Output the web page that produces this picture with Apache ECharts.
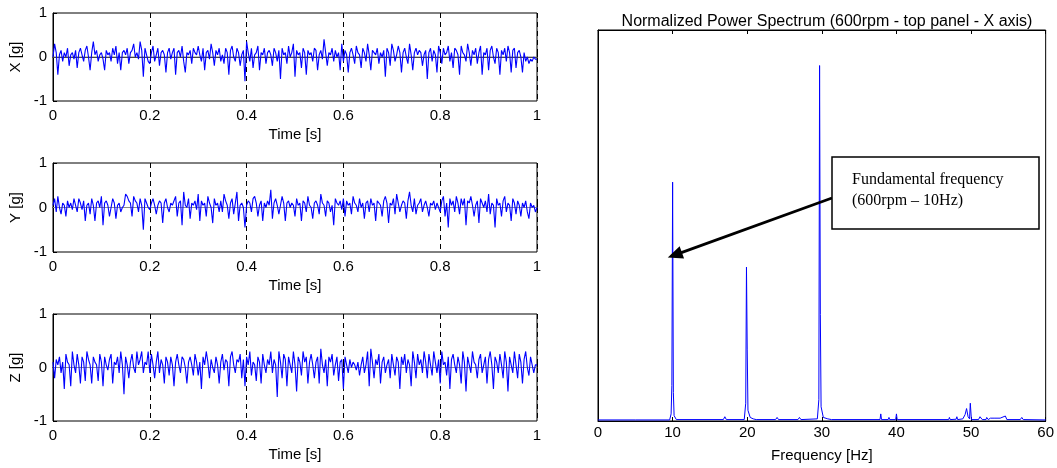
<!DOCTYPE html>
<html><head><meta charset="utf-8">
<script src="https://cdn.jsdelivr.net/npm/echarts@6/dist/echarts.min.js"></script>
<style>html,body{margin:0;padding:0;background:#fff}#c{width:1057px;height:468px}</style>
</head><body><div id="c"></div>
<script>
// ---------- DATA ----------
const duration = 1; // s, samples are evenly spaced over this span
const timeTicks = [0, 0.2, 0.4, 0.6, 0.8, 1];
const accelTicks = [-1, 0, 1];
const freqTicks = [0, 10, 20, 30, 40, 50, 60];

const xAccel = [
 0.0, 0.3, 0.1, -0.4, 0.05, 0.15, -0.1, 0.1, 0.0, 0.2, -0.2, 0.05, 0.1, -0.05, 0.15,
 -0.25, 0.1, 0.2, 0.05, -0.1, 0.15, 0.25, 0.0, -0.3, 0.1, 0.35, 0.05, 0.15, -0.1, 0.05,
 0.1, -0.05, -0.3, 0.15, 0.05, 0.1, -0.1, 0.2, 0.05, 0.25, -0.15, 0.1, -0.3, 0.1, 0.15,
 0.05, 0.2, -0.15, 0.1, 0.15, 0.3, 0.0, 0.1, -0.05, 0.35, 0.15, -0.45, 0.2, 0.05, -0.1,
 -0.15, 0.1, 0.25, -0.1, 0.05, 0.2, -0.2, 0.1, 0.15, 0.05, -0.35, 0.1, 0.2, -0.05, 0.1,
 0.2, -0.4, 0.1, 0.15, 0.0, 0.25, -0.1, -0.35, 0.1, 0.05, 0.15, -0.15, 0.2, 0.1, 0.05,
 0.25, 0.05, -0.1, 0.2, -0.3, 0.1, 0.15, -0.05, 0.3, 0.1, -0.2, 0.15, 0.05, 0.2, -0.1,
 0.05, -0.15, 0.2, 0.1, -0.4, 0.15, 0.25, 0.0, -0.1, 0.2, 0.1, -0.2, 0.05, 0.15, -0.55,
 0.35, 0.1, -0.1, 0.2, -0.25, 0.05, 0.1, 0.25, -0.3, 0.1, 0.05, 0.2, -0.15, 0.1, 0.15,
 0.05, -0.2, 0.2, 0.1, -0.1, 0.15, -0.5, 0.2, 0.05, 0.1, -0.15, 0.25, 0.0, 0.1, 0.3,
 -0.45, 0.15, 0.05, 0.1, -0.25, 0.2, 0.1, -0.4, 0.15, 0.05, 0.1, -0.1, 0.2, 0.15, -0.3,
 0.05, 0.15, -0.05, 0.4, 0.1, -0.2, 0.1, 0.05, 0.2, -0.1, 0.15, 0.0, 0.1, -0.3, 0.3,
 -0.1, 0.15, 0.05, -0.35, 0.1, 0.2, 0.05, -0.15, 0.25, 0.1, 0.05, -0.25, 0.2, 0.1, -0.1,
 0.3, 0.05, -0.3, 0.15, 0.1, 0.05, 0.2, -0.15, 0.1, 0.0, 0.15, -0.45, 0.2, 0.1, -0.2,
 0.3, 0.15, -0.1, 0.05, 0.25, 0.1, -0.35, 0.1, 0.2, 0.0, -0.15, 0.3, 0.05, -0.3, 0.1,
 0.2, 0.05, 0.15, 0.1, -0.2, 0.05, 0.15, -0.5, 0.1, 0.2, -0.1, 0.15, 0.05, -0.35, 0.25,
 0.1, -0.15, 0.2, 0.05, 0.1, 0.25, -0.1, 0.1, -0.25, 0.2, 0.15, 0.05, -0.4, 0.25, 0.1,
 0.05, -0.1, 0.3, 0.1, -0.2, 0.15, 0.05, 0.2, -0.15, 0.1, 0.25, -0.4, 0.1, 0.05, 0.2,
 -0.3, 0.15, 0.25, 0.0, -0.15, 0.2, 0.1, -0.4, 0.15, 0.05, 0.2, -0.1, 0.25, 0.1, -0.35,
 0.15, 0.2, -0.25, 0.1, 0.15, 0.0, -0.35, 0.1, -0.1, 0.0, -0.15, -0.05, -0.1, 0.0, -0.05,
 -0.05
];
const yAccel = [
 0.05, 0.2, -0.1, 0.25, 0.0, -0.15, 0.1, 0.05, -0.2, 0.15, 0.0, 0.1, -0.05, 0.2, 0.05,
 -0.1, 0.2, 0.1, -0.05, 0.15, -0.3, 0.05, 0.1, -0.15, 0.2, 0.05, -0.3, 0.1, 0.15, 0.0,
 0.25, -0.4, 0.1, 0.15, 0.05, -0.2, 0.0, 0.2, 0.1, -0.25, 0.05, 0.1, -0.1, 0.0, 0.05,
 0.3, 0.25, 0.15, 0.1, -0.2, 0.25, 0.15, 0.1, -0.1, 0.2, 0.05, -0.5, 0.2, 0.1, 0.0,
 -0.05, 0.1, 0.2, 0.05, -0.15, 0.05, 0.15, 0.1, -0.35, 0.1, 0.2, 0.0, -0.1, 0.1, 0.05,
 0.05, 0.25, -0.2, 0.1, 0.15, -0.4, 0.35, 0.05, 0.0, 0.2, -0.25, 0.1, 0.05, 0.15, -0.05,
 0.3, -0.3, 0.15, 0.05, 0.1, -0.2, 0.25, 0.1, 0.0, -0.35, 0.2, 0.05, 0.1, -0.1, 0.15,
 -0.1, 0.3, 0.15, 0.05, -0.25, 0.1, 0.2, -0.15, 0.1, 0.35, -0.3, 0.05, 0.1, 0.0, -0.45,
 0.05, 0.15, 0.1, -0.1, 0.2, 0.25, 0.1, -0.2, 0.05, 0.15, -0.3, 0.1, 0.0, 0.15, 0.05,
 0.4, -0.25, 0.1, 0.2, 0.05, -0.15, 0.05, 0.25, 0.1, -0.3, 0.1, 0.15, 0.0, 0.1, 0.05,
 -0.2, 0.2, 0.05, 0.1, -0.3, 0.15, 0.1, -0.1, 0.25, 0.05, 0.0, -0.25, 0.1, 0.15, 0.05,
 -0.15, 0.3, 0.1, 0.05, -0.2, 0.15, 0.1, -0.1, 0.05, -0.4, 0.2, 0.1, 0.05, 0.15, -0.05,
 0.2, -0.2, 0.15, 0.05, 0.1, -0.15, 0.25, 0.1, 0.05, -0.1, 0.2, 0.0, 0.1, -0.25, 0.1,
 0.15, -0.1, 0.2, 0.05, 0.1, -0.3, 0.15, 0.1, 0.05, -0.2, 0.15, 0.25, 0.1, -0.35, 0.1,
 0.05, 0.2, -0.15, 0.3, 0.1, -0.1, 0.05, 0.15, 0.1, -0.25, 0.15, 0.35, 0.05, -0.1, 0.2,
 -0.15, 0.05, 0.1, 0.2, -0.1, 0.05, 0.15, 0.0, -0.2, 0.1, 0.05, 0.15, -0.05, 0.1, 0.0,
 -0.1, 0.15, 0.25, -0.2, 0.1, -0.45, 0.2, 0.05, 0.15, -0.1, 0.25, 0.1, -0.15, 0.2, 0.05,
 0.2, -0.4, 0.15, 0.1, 0.25, 0.05, -0.2, 0.05, 0.15, -0.35, 0.2, 0.1, 0.0, 0.15, -0.1,
 0.3, -0.15, 0.1, 0.05, -0.45, 0.2, 0.05, 0.1, -0.2, 0.15, 0.25, -0.1, 0.1, 0.05, -0.3,
 0.2, 0.1, -0.15, 0.15, 0.05, -0.2, 0.1, 0.0, 0.15, -0.1, -0.25, 0.1, 0.0, 0.05, -0.1,
 0.0
];
const zAccel = [
 0.1, -0.2, 0.15, 0.05, 0.2, -0.1, 0.1, -0.4, 0.25, 0.1, 0.05, -0.35, 0.3, 0.05, -0.1,
 0.25, 0.05, -0.3, 0.2, 0.1, -0.25, 0.3, 0.15, 0.05, -0.3, 0.2, 0.1, 0.05, -0.25, 0.25,
 0.1, -0.35, 0.2, 0.05, -0.05, 0.15, 0.25, -0.3, 0.1, 0.05, 0.2, -0.1, 0.3, 0.05, -0.5,
 0.2, 0.05, -0.2, 0.1, 0.25, 0.0, -0.1, 0.3, 0.05, 0.15, 0.3, -0.1, 0.1, 0.05, 0.3,
 -0.1, 0.25, 0.05, -0.2, 0.1, 0.3, -0.1, 0.15, 0.05, -0.3, 0.2, 0.1, -0.15, 0.2, 0.05,
 -0.35, 0.1, 0.25, 0.05, -0.1, 0.2, 0.15, 0.0, -0.3, 0.1, 0.2, 0.05, -0.15, 0.25, 0.1,
 -0.15, 0.1, -0.4, 0.2, 0.05, 0.3, 0.1, -0.2, 0.15, 0.0, -0.1, 0.2, 0.05, -0.3, 0.1,
 0.25, -0.05, 0.15, 0.1, -0.35, 0.2, 0.3, 0.05, -0.1, 0.15, 0.1, 0.25, -0.2, 0.15, -0.35,
 0.2, 0.05, 0.3, -0.15, 0.1, 0.05, -0.25, 0.2, 0.1, -0.3, 0.25, 0.05, -0.1, 0.15, 0.05,
 0.3, -0.1, 0.15, 0.05, -0.55, 0.3, 0.1, -0.2, 0.25, 0.15, -0.35, 0.2, 0.05, -0.1, 0.3,
 0.05, -0.45, 0.2, 0.1, -0.15, 0.3, 0.1, 0.2, -0.3, 0.1, 0.25, 0.05, -0.2, 0.1, 0.2,
 -0.3, 0.35, 0.05, -0.1, 0.15, -0.35, 0.2, 0.1, 0.25, -0.15, 0.05, 0.2, -0.25, 0.1, 0.15,
 -0.4, 0.2, 0.05, -0.1, 0.15, 0.0, 0.1, 0.05, -0.05, 0.1, -0.15, 0.05, 0.2, -0.1, 0.05,
 0.3, -0.35, 0.35, 0.1, -0.2, 0.15, 0.05, 0.25, -0.3, 0.1, 0.2, -0.1, 0.05, 0.15, -0.2,
 0.25, 0.05, -0.15, 0.2, 0.1, -0.4, 0.2, 0.05, 0.25, -0.1, 0.15, 0.05, -0.35, 0.3, 0.1,
 -0.2, 0.25, 0.05, 0.15, -0.1, 0.3, 0.1, -0.2, 0.25, 0.05, -0.15, 0.3, 0.1, -0.1, 0.15,
 -0.3, 0.3, 0.05, 0.1, -0.15, 0.2, -0.4, 0.15, 0.25, 0.05, -0.1, 0.2, 0.05, -0.3, 0.3,
 0.1, -0.45, 0.2, 0.05, -0.1, 0.3, 0.1, 0.05, -0.2, 0.15, 0.25, -0.1, 0.05, 0.2, -0.3,
 0.15, 0.3, 0.05, -0.4, 0.2, 0.1, -0.1, 0.25, 0.05, -0.2, 0.3, 0.1, -0.45, 0.2, 0.05,
 -0.1, 0.3, 0.05, -0.2, 0.25, 0.1, -0.3, 0.15, 0.3, 0.0, -0.15, 0.2, 0.05, -0.1, 0.05,
 0.05
];
const zeroLine = [[0, 0], [1, 0]];

const specFreq = [0, 5, 9.6, 9.8, 9.9, 10, 10.1, 10.2, 10.5, 16.8, 17, 17.2,
 19.6, 19.8, 19.9, 20, 20.1, 20.4, 20.8, 21.2, 23.8, 24, 24.2, 26.8, 27, 27.2,
 29.4, 29.6, 29.7, 29.8, 29.9, 30.2, 30.8, 31.3, 37.8, 37.9, 38, 38.9, 39, 39.1,
 39.9, 40, 40.1, 47, 47.1, 47.2, 48, 48.1, 48.2, 48.9, 49.2, 49.4, 49.6, 49.8,
 49.9, 50, 50.05, 51, 51.2, 51.5, 52, 52.1, 52.3, 52.6, 52.8, 53.2, 53.4, 53.9,
 54.1, 54.6, 54.8, 56.6, 56.8, 57, 60];
const specPower = [0.003, 0.003, 0.003, 0.02, 0.1, 0.672, 0.08, 0.015, 0.004, 0.004, 0.012, 0.004,
 0.004, 0.05, 0.433, 0.2, 0.03, 0.01, 0.006, 0.004, 0.004, 0.01, 0.004, 0.004, 0.01, 0.004,
 0.006, 0.06, 1.0, 0.3, 0.04, 0.01, 0.006, 0.004, 0.004, 0.02, 0.004, 0.004, 0.01, 0.004,
 0.004, 0.02, 0.004, 0.004, 0.01, 0.004, 0.005, 0.012, 0.004, 0.006, 0.018, 0.035, 0.012, 0.006,
 0.05, 0.05, 0.004, 0.004, 0.012, 0.004, 0.004, 0.01, 0.004, 0.008, 0.004, 0.008, 0.004, 0.008,
 0.004, 0.014, 0.004, 0.004, 0.01, 0.004, 0.003];

const titleText = 'Normalized Power Spectrum (600rpm - top panel - X axis)';
const annotLines = ['Fundamental frequency', '(600rpm \u2013 10Hz)'];
const arrowTip = [9.35, 0.46]; // data coords (Hz, power) of the arrow head

// ---------- CHART ----------
const FONT = 'Liberation Sans';
const BLUE = '#0000ff';
const chart = echarts.init(document.getElementById('c'), null, {renderer: 'canvas'});

const leftGrids = [
  {left: 53, top: 13, width: 484, height: 88},
  {left: 53, top: 163, width: 484, height: 89},
  {left: 53, top: 314, width: 484, height: 107}
];
const grids = leftGrids.map(g => Object.assign({show: true, borderColor: '#000', borderWidth: 1, backgroundColor: '#fff'}, g));
grids.push({show: true, borderColor: '#000', borderWidth: 1, left: 598, top: 30, width: 449, height: 391});

const axisLbl = {color: '#000', fontFamily: FONT, fontSize: 15};
const names = ['X [g]', 'Y [g]', 'Z [g]'];
const signals = [xAccel, yAccel, zAccel];

const xAxes = [], yAxes = [], series = [];
for (let i = 0; i < 3; i++) {
  xAxes.push({
    type: 'value', gridIndex: i, min: timeTicks[0], max: timeTicks[timeTicks.length - 1],
    interval: timeTicks[1] - timeTicks[0],
    axisLine: {show: true, lineStyle: {color: '#000', width: 1}},
    axisTick: {show: true, inside: true, length: 4, lineStyle: {color: '#000'}},
    axisLabel: Object.assign({margin: 7}, axisLbl),
    splitLine: {show: true, lineStyle: {color: '#000', type: [5, 4], width: 1}},
    name: 'Time [s]', nameLocation: 'middle', nameGap: 26,
    nameTextStyle: {color: '#000', fontFamily: FONT, fontSize: 15}
  });
  yAxes.push({
    type: 'value', gridIndex: i, min: accelTicks[0], max: accelTicks[accelTicks.length - 1],
    interval: accelTicks[1] - accelTicks[0],
    axisLine: {show: true, lineStyle: {color: '#000', width: 1}},
    axisTick: {show: true, inside: true, length: 4, lineStyle: {color: '#000'}},
    axisLabel: Object.assign({margin: 6}, axisLbl),
    splitLine: {show: false},
    name: names[i], nameLocation: 'middle', nameGap: 30, nameRotate: 90,
    nameTextStyle: {color: '#000', fontFamily: FONT, fontSize: 15}
  });
  series.push({
    type: 'line', xAxisIndex: i, yAxisIndex: i, data: zeroLine,
    showSymbol: false, silent: true, lineStyle: {color: '#8c8c8c', width: 1}, z: 1
  });
  const sig = signals[i];
  series.push({
    type: 'line', xAxisIndex: i, yAxisIndex: i,
    data: sig.map((v, k) => [k * duration / (sig.length - 1), v]),
    showSymbol: false, silent: true, lineStyle: {color: BLUE, width: 1.1}, z: 2
  });
}
// spectrum axes
xAxes.push({
  type: 'value', gridIndex: 3, min: freqTicks[0], max: freqTicks[freqTicks.length - 1],
  interval: freqTicks[1] - freqTicks[0],
  axisLine: {show: true, lineStyle: {color: '#000'}},
  axisTick: {show: true, inside: true, length: 4, lineStyle: {color: '#000'}},
  axisLabel: Object.assign({margin: 4}, axisLbl),
  splitLine: {show: false},
  name: 'Frequency [Hz]', nameLocation: 'middle', nameGap: 27,
  nameTextStyle: {color: '#000', fontFamily: FONT, fontSize: 15}
});
xAxes.push({
  type: 'value', gridIndex: 3, position: 'top', min: freqTicks[0], max: freqTicks[freqTicks.length - 1],
  interval: freqTicks[1] - freqTicks[0],
  axisLine: {show: true, lineStyle: {color: '#000'}},
  axisTick: {show: true, inside: true, length: 4, lineStyle: {color: '#000'}},
  axisLabel: {show: false}, splitLine: {show: false}
});
yAxes.push({
  type: 'value', gridIndex: 3, min: 0, max: 1.1,
  axisLine: {show: true, lineStyle: {color: '#000'}},
  axisTick: {show: false}, axisLabel: {show: false}, splitLine: {show: false}
});
series.push({
  type: 'line', xAxisIndex: 3, yAxisIndex: 3,
  data: specFreq.map((f, k) => [f, specPower[k]]),
  showSymbol: false, silent: true, lineStyle: {color: BLUE, width: 1}, z: 2
});

chart.setOption({
  animation: false,
  backgroundColor: '#fff',
  title: {
    text: titleText, left: 822, top: 9, textAlign: 'center',
    textStyle: {color: '#000', fontFamily: FONT, fontSize: 16, fontWeight: 'normal'}
  },
  grid: grids, xAxis: xAxes, yAxis: yAxes, series: series
});

// ---------- ANNOTATION ----------
const tip = chart.convertToPixel({xAxisIndex: 3, yAxisIndex: 3}, arrowTip);
const box = {x: 832, y: 157, w: 207, h: 72};
const start = [box.x, 198];
const dx = tip[0] - start[0], dy = tip[1] - start[1];
const len = Math.sqrt(dx * dx + dy * dy);
const ux = dx / len, uy = dy / len;
const headL = 15, headW = 6.5;
const baseX = tip[0] - ux * headL, baseY = tip[1] - uy * headL;
const head = [
  [tip[0], tip[1]],
  [baseX - uy * headW, baseY + ux * headW],
  [baseX + uy * headW, baseY - ux * headW]
];
chart.setOption({
  graphic: [
    {type: 'line', z: 100, shape: {x1: start[0], y1: start[1], x2: baseX + ux * 2, y2: baseY + uy * 2},
     style: {stroke: '#000', lineWidth: 2.8}},
    {type: 'polygon', z: 100, shape: {points: head}, style: {fill: '#000'}},
    {type: 'rect', z: 100, shape: {x: box.x, y: box.y, width: box.w, height: box.h},
     style: {fill: '#fff', stroke: '#000', lineWidth: 1.5}},
    {type: 'text', z: 101, left: box.x + 20, top: box.y + 12,
     style: {text: annotLines.join('\n'), font: '16px "Liberation Serif"', fill: '#000', lineHeight: 21}}
  ]
});
</script>
</body></html>
